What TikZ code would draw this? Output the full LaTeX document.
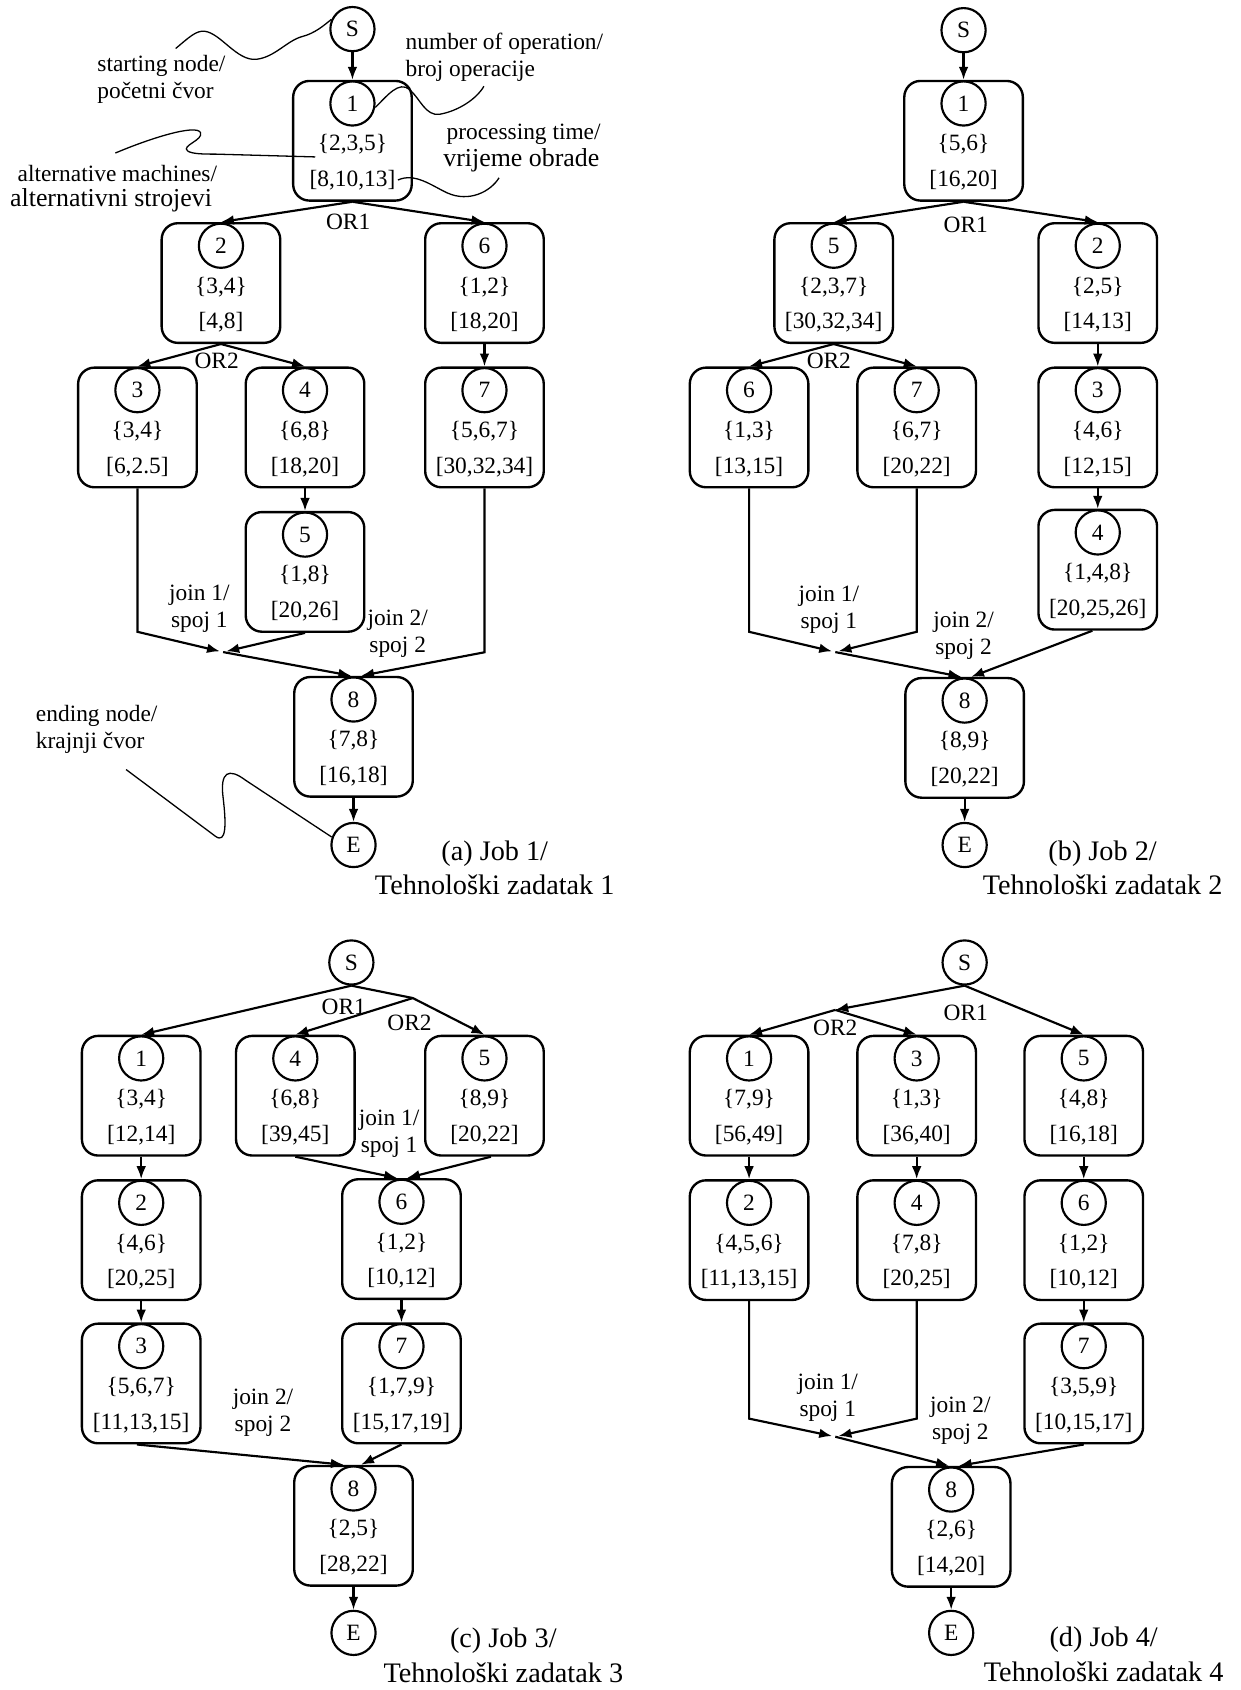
\documentclass[tikz,border=0pt]{standalone}
\usepackage{fontspec}
\setmainfont{Liberation Serif}
\usetikzlibrary{positioning, calc, arrows.meta}

\newcommand{\notefont}{\fontsize{10.85}{12.5}\selectfont}
\newcommand{\bignotefont}{\fontsize{12}{14}\selectfont}
\newcommand{\capfont}{\fontsize{13.1}{16}\selectfont}

% operation box: name, x, top, number, machines, times
\newcommand{\opnode}[6]{%
  \node[opbox, anchor=north] (#1) at (#2,#3) {};
  \node[opnum] (#1c) at ($(#1.north)+(0,22)$) {#4};
  \node[optext] (#1m) at ($(#1.north)+(0,60)$) {\{#5\}};
  \node[optext] (#1t) at ($(#1.north)+(0,93)$) {[#6]};
}

\begin{document}
\begin{tikzpicture}[
  x=0.5pt, y=-0.5pt,
  every node/.style={font=\notefont},
  opbox/.style={draw, rounded corners=7.5pt, line width=1.1pt,
    minimum width=55pt, minimum height=55.5pt, inner sep=0},
  opnum/.style={draw, circle, line width=1pt, minimum size=20.5pt, inner sep=0},
  endpt/.style={draw, circle, line width=1pt, minimum size=20.5pt, inner sep=0},
  optext/.style={inner sep=1pt},
  gate/.style={inner sep=1pt},
  joinlbl/.style={align=center, inner sep=1pt},
  note/.style={align=left, inner sep=1pt},
  bignote/.style={inner sep=1pt, font=\bignotefont},
  caption/.style={align=center, inner sep=1pt, font=\capfont},
  flow/.style={line width=1pt, -{Latex[length=6pt, width=4.5pt]}},
  link/.style={line width=1pt},
  callout/.style={line width=0.6pt},
]
  \useasboundingbox (0,0) rectangle (1151,1568);

  % ---------------- (a) Job 1
  \node[endpt] (Sa) at (327,27) {S};
  \opnode{a1}{327}{74}{1}{2,3,5}{8,10,13}
  \opnode{a2}{205}{206}{2}{3,4}{4,8}
  \opnode{a6}{449.5}{206}{6}{1,2}{18,20}
  \opnode{a3}{127.5}{340}{3}{3,4}{6,2.5}
  \opnode{a4}{283}{340}{4}{6,8}{18,20}
  \opnode{a7}{449.5}{340}{7}{5,6,7}{30,32,34}
  \opnode{a5}{283}{474}{5}{1,8}{20,26}
  \opnode{a8}{328}{627}{8}{7,8}{16,18}
  \node[endpt] (Ea) at (328,784) {E};
  \coordinate (ja1) at (207,605);

  \draw[flow] (Sa) -- (a1);
  \draw[flow] (a1.south) -- (a2.north);
  \draw[flow] (a1.south) -- (a6.north);
  \draw[flow] (a2.south) -- (a3.north);
  \draw[flow] (a2.south) -- (a4.north);
  \draw[flow] (a6) -- (a7);
  \draw[flow] (a4) -- (a5);
  \draw[flow, shorten >=1.5pt] (a3.south) -- ++(0,133) -- (ja1);
  \draw[flow, shorten >=1.5pt] (a5.south) -- (ja1);
  \draw[flow] (ja1) -- ([xshift=-1pt]a8.north);
  \draw[flow] (a7.south) -- ++(0,152) -- ([xshift=3.5pt]a8.north);
  \draw[flow] (a8) -- (Ea);

  \node[gate] (or1a) at (323,206) {OR1};
  \node[gate] (or2a) at (201,335) {OR2};
  \node[joinlbl] (j1a) at (185,565) {join 1/\\spoj 1};
  \node[joinlbl] (j2a) at (369,588) {join 2/\\spoj 2};
  \node[caption] (capa) at (459,805) {(a) Job 1/\\Tehnološki zadatak 1};

  %% notes
  \node[note, anchor=west] (nstart) at (88,74) {starting node/\\početni čvor};
  \node[note, anchor=west] (nnum) at (374,53) {number of operation/\\broj operacije};
  \node[note, anchor=west] (nproc) at (412,125) {processing time/};
  \node[bignote, anchor=west] (nproc2) at (409,149) {vrijeme obrade};
  \node[note, anchor=west] (nalt) at (14,161) {alternative machines/};
  \node[bignote, anchor=west] (nalt2) at (7,186) {alternativni strojevi};
  \node[note, anchor=west] (nend) at (31,677) {ending node/\\krajnji čvor};

  \draw[callout] (163,45) .. controls (175,35) and (182,28) .. (190,29)
    .. controls (205,31) and (220,57) .. (238,55)
    .. controls (255,53) and (266,38) .. (280,34)
    .. controls (292,31) and (300,24) .. (Sa.155);
  \draw[callout] (a1c.350) .. controls (360,88) and (370,75) .. (380,83)
    .. controls (390,92) and (395,108) .. (408,106)
    .. controls (425,103) and (442,92) .. (449,80);
  \draw[callout] (107,142) .. controls (140,128) and (182,115) .. (186,123)
    .. controls (189,130) and (168,135) .. (174,140)
    .. controls (178,143) and (190,143) .. (200,143) -- (a1m.south west);
  \draw[callout] (a1t.east) .. controls (385,160) and (400,172) .. (415,179)
    .. controls (435,188) and (455,178) .. (463,165);
  \draw[callout] (117,714) -- (200,776)
    .. controls (210,783) and (210,765) .. (207,740)
    .. controls (204,716) and (212,712) .. (228,724) -- (Ea.160);

  % ---------------- (b) Job 2
  \node[endpt] (Sb) at (894,28) {S};
  \opnode{b1}{894}{74}{1}{5,6}{16,20}
  \opnode{b5}{773.5}{206}{5}{2,3,7}{30,32,34}
  \opnode{b2}{1018.5}{206}{2}{2,5}{14,13}
  \opnode{b6}{695}{340}{6}{1,3}{13,15}
  \opnode{b7}{850.5}{340}{7}{6,7}{20,22}
  \opnode{b3}{1018.5}{340}{3}{4,6}{12,15}
  \opnode{b4}{1018.5}{472}{4}{1,4,8}{20,25,26}
  \opnode{b8}{895}{628}{8}{8,9}{20,22}
  \node[endpt] (Eb) at (895,784) {E};
  \coordinate (jb1) at (775,605);

  \draw[flow] (Sb) -- (b1);
  \draw[flow] (b1.south) -- (b5.north);
  \draw[flow] (b1.south) -- (b2.north);
  \draw[flow] (b5.south) -- (b6.north);
  \draw[flow] (b5.south) -- (b7.north);
  \draw[flow] (b2) -- (b3);
  \draw[flow] (b3) -- (b4);
  \draw[flow, shorten >=1.5pt] (b6.south) -- ++(0,133) -- (jb1);
  \draw[flow, shorten >=1.5pt] (b7.south) -- ++(0,133) -- (jb1);
  \draw[flow] (jb1) -- ([xshift=-1.5pt]b8.north);
  \draw[flow] ([xshift=-2.5pt]b4.south) -- ([xshift=3pt]b8.north);
  \draw[flow] (b8) -- (Eb);

  \node[gate] (or1b) at (896,209) {OR1};
  \node[gate] (or2b) at (769,335) {OR2};
  \node[joinlbl] (j1b) at (769,566) {join 1/\\spoj 1};
  \node[joinlbl] (j2b) at (894,590) {join 2/\\spoj 2};
  \node[caption] (capb) at (1023,805) {(b) Job 2/\\Tehnološki zadatak 2};

  % ---------------- (c) Job 3
  \node[endpt] (Sc) at (326,893) {S};
  \coordinate (kc) at (383,926);
  \opnode{c1}{131}{960}{1}{3,4}{12,14}
  \opnode{c4}{274}{960}{4}{6,8}{39,45}
  \opnode{c5}{449.5}{960}{5}{8,9}{20,22}
  \opnode{c2}{131}{1094}{2}{4,6}{20,25}
  \opnode{c6}{372.5}{1093}{6}{1,2}{10,12}
  \opnode{c3}{131}{1227}{3}{5,6,7}{11,13,15}
  \opnode{c7}{372.5}{1227}{7}{1,7,9}{15,17,19}
  \opnode{c8}{328}{1359}{8}{2,5}{28,22}
  \node[endpt] (Ec) at (328,1515) {E};

  \draw[flow] (Sc.south) -- (c1.north);
  \draw[link] (Sc.south) -- (kc);
  \draw[flow] (kc) -- (c4.north);
  \draw[flow] (kc) -- (c5.north);
  \draw[flow] (c1) -- (c2);
  \draw[flow] (c2) -- (c3);
  \draw[flow] (c4.south) -- ([xshift=-2pt]c6.north);
  \draw[flow] ([xshift=3pt]c5.south) -- ([xshift=2.5pt]c6.north);
  \draw[flow] (c6) -- (c7);
  \draw[flow] ([xshift=-2pt]c3.south) -- ([xshift=-4.5pt]c8.north);
  \draw[flow] (c7.south) -- ([xshift=3.5pt]c8.north);
  \draw[flow] (c8) -- (Ec);

  \node[gate] (or1c) at (319,934) {OR1};
  \node[gate] (or2c) at (380,949) {OR2};
  \node[joinlbl] (j1c) at (361,1052) {join 1/\\spoj 1};
  \node[joinlbl] (j2c) at (244,1311) {join 2/\\spoj 2};
  \node[caption] (capc) at (467,1536) {(c) Job 3/\\Tehnološki zadatak 3};

  % ---------------- (d) Job 4
  \node[endpt] (Sd) at (895,893) {S};
  \coordinate (kd) at (775,937);
  \opnode{d1}{695}{960}{1}{7,9}{56,49}
  \opnode{d3}{850.5}{960}{3}{1,3}{36,40}
  \opnode{d5}{1005.5}{960}{5}{4,8}{16,18}
  \opnode{d2}{695}{1094}{2}{4,5,6}{11,13,15}
  \opnode{d4}{850.5}{1094}{4}{7,8}{20,25}
  \opnode{d6}{1005.5}{1094}{6}{1,2}{10,12}
  \opnode{d7}{1005.5}{1227}{7}{3,5,9}{10,15,17}
  \opnode{d8}{882.5}{1360}{8}{2,6}{14,20}
  \node[endpt] (Ed) at (882.5,1515) {E};
  \coordinate (jd1) at (775,1333);

  \draw[flow] (Sd.south) -- (kd);
  \draw[flow] (kd) -- (d1.north);
  \draw[flow] (kd) -- (d3.north);
  \draw[flow] (Sd.south) -- (d5.north);
  \draw[flow] (d1) -- (d2);
  \draw[flow] (d3) -- (d4);
  \draw[flow] (d5) -- (d6);
  \draw[flow] (d6) -- (d7);
  \draw[flow, shorten >=1.5pt] (d2.south) -- ++(0,109) -- (jd1);
  \draw[flow, shorten >=1.5pt] (d4.south) -- ++(0,109) -- (jd1);
  \draw[flow] (jd1) -- ([xshift=-1pt]d8.north);
  \draw[flow] (d7.south) -- ([xshift=3.5pt]d8.north);
  \draw[flow] (d8) -- (Ed);

  \node[gate] (or1d) at (896,940) {OR1};
  \node[gate] (or2d) at (775,954) {OR2};
  \node[joinlbl] (j1d) at (768,1297) {join 1/\\spoj 1};
  \node[joinlbl] (j2d) at (891,1318) {join 2/\\spoj 2};
  \node[caption] (capd) at (1024,1535) {(d) Job 4/\\Tehnološki zadatak 4};

\end{tikzpicture}
\end{document}
